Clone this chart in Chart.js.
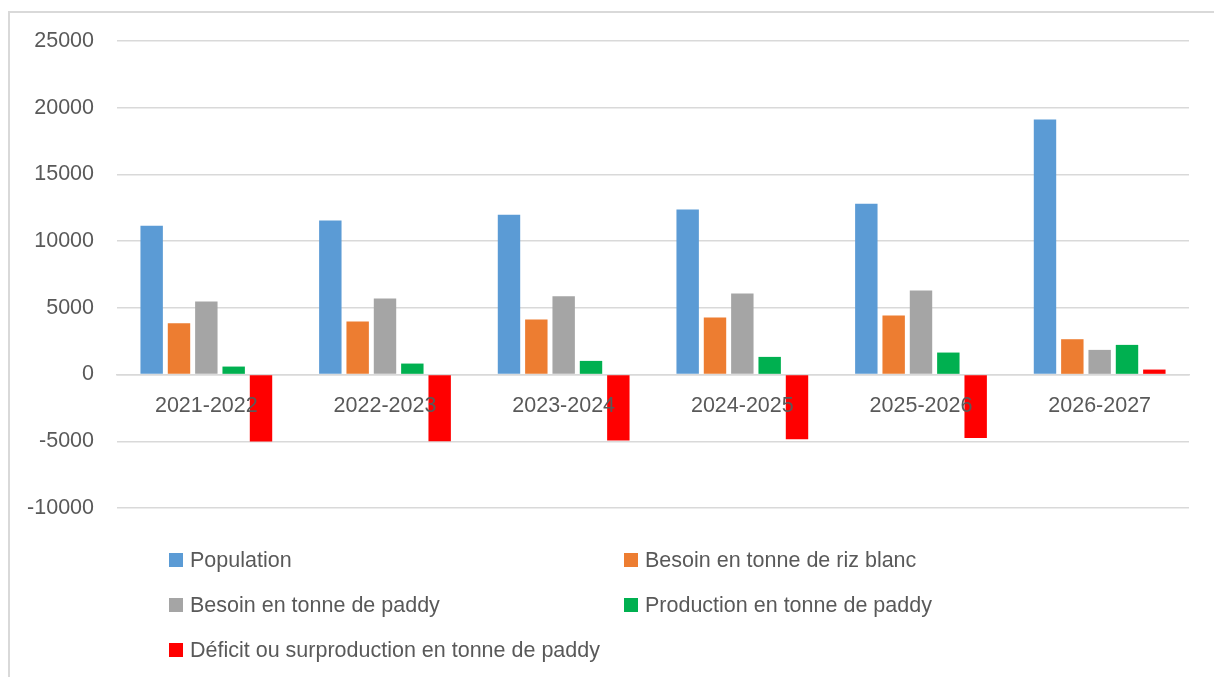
<!DOCTYPE html>
<html>
<head>
<meta charset="utf-8">
<script src="https://cdn.jsdelivr.net/npm/chart.js@4/dist/chart.umd.min.js"></script>
<style>
  html, body { margin: 0; padding: 0; background: #ffffff; }
  #wrap { position: relative; width: 1214px; height: 677px; }
</style>
</head>
<body>
<div id="wrap"><canvas id="c" width="1214" height="677"></canvas></div>
<script>
const categories = ["2021-2022", "2022-2023", "2023-2024", "2024-2025", "2025-2026", "2026-2027"];
const population = [11150, 11550, 11975, 12375, 12800, 19125];
const besoinRizBlanc = [3850, 3975, 4125, 4275, 4425, 2650];
const besoinPaddy = [5475, 5700, 5875, 6075, 6300, 1850];
const productionPaddy = [600, 825, 1025, 1325, 1650, 2225];
const deficitPaddy = [-5025, -5000, -4950, -4850, -4750, 375];
const seriesNames = [
  "Population",
  "Besoin en tonne de riz blanc",
  "Besoin en tonne de paddy",
  "Production en tonne de paddy",
  "Déficit ou surproduction en tonne de paddy"
];
const yTicks = { min: -10000, max: 25000, step: 5000 };

const FONT = "'Liberation Sans', Arial, sans-serif";
const TEXT = "#595959";
const GRID = "#d9d9d9";

const framePlugin = {
  id: "frame",
  beforeDraw(chart) {
    const ctx = chart.ctx;
    ctx.save();
    ctx.strokeStyle = GRID;
    ctx.lineWidth = 2;
    ctx.beginPath();
    ctx.moveTo(9, 677);
    ctx.lineTo(9, 12);
    ctx.lineTo(1214, 12);
    ctx.stroke();
    ctx.restore();
  }
};

const legendPlugin = {
  id: "gridLegend",
  afterDraw(chart) {
    const ctx = chart.ctx;
    const cols = [169, 624];
    const rows = [560, 605, 650];
    ctx.save();
    ctx.font = "21.5px " + FONT;
    ctx.textBaseline = "middle";
    ctx.textAlign = "left";
    chart.data.datasets.forEach((ds, i) => {
      const x = cols[i % 2];
      const y = rows[Math.floor(i / 2)];
      ctx.fillStyle = ds.backgroundColor;
      ctx.fillRect(x, y - 7, 14, 14);
      ctx.fillStyle = TEXT;
      ctx.fillText(ds.label, x + 21, y + 1);
    });
    ctx.restore();
  }
};

const colors = ["#5B9BD5", "#ED7D31", "#A5A5A5", "#00B050", "#FF0000"];
const values = [population, besoinRizBlanc, besoinPaddy, productionPaddy, deficitPaddy];

new Chart(document.getElementById("c"), {
  type: "bar",
  data: {
    labels: categories,
    datasets: values.map((v, i) => ({
      label: seriesNames[i],
      data: v,
      backgroundColor: colors[i],
      borderWidth: 0,
      categoryPercentage: 0.765,
      barPercentage: 0.82
    }))
  },
  options: {
    responsive: false,
    animation: false,
    layout: { padding: { left: 9, top: 41, right: 25, bottom: 169 } },
    plugins: { legend: { display: false }, tooltip: { enabled: false } },
    scales: {
      x: {
        type: "category",
        position: { y: 0 },
        grid: { display: false, drawTicks: false },
        border: { display: true, color: GRID, width: 1.5 },
        ticks: { z: 1, color: TEXT, font: { family: FONT, size: 21.5 }, padding: 19, maxRotation: 0 }
      },
      y: {
        min: yTicks.min,
        max: yTicks.max,
        afterFit(scale) { scale.width = 108; },
        grid: { color: GRID, lineWidth: 1.5, drawTicks: false },
        border: { display: false },
        ticks: {
          stepSize: yTicks.step,
          color: TEXT,
          font: { family: FONT, size: 21.5 },
          padding: 23,
          callback: (v) => String(v)
        }
      }
    }
  },
  plugins: [framePlugin, legendPlugin]
});
</script>
</body>
</html>
